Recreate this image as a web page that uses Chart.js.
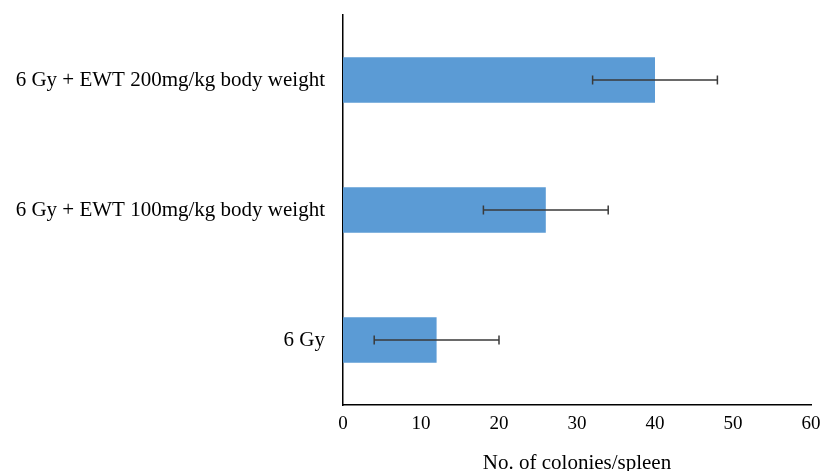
<!DOCTYPE html>
<html>
<head>
<meta charset="utf-8">
<script src="https://cdn.jsdelivr.net/npm/chart.js@4.4.0/dist/chart.umd.min.js"></script>
<style>
  html, body { margin: 0; padding: 0; background: #fff; }
  #wrap { width: 820px; height: 471px; }
</style>
</head>
<body>
<div id="wrap"><canvas id="chart_colonies"></canvas></div>
<script>
var groupLabels = ['6 Gy + EWT 200mg/kg body weight', '6 Gy + EWT 100mg/kg body weight', '6 Gy'];
var colonies = [40, 26, 12];
var colonyErrors = [8, 8, 8];
var xTicks = [0, 10, 20, 30, 40, 50, 60];

var serif = "'Liberation Serif', 'Times New Roman', serif";

var errorBarPlugin = {
    id: 'errorBars',
    afterDatasetsDraw: function(chart) {
        var ctx = chart.ctx;
        var xs = chart.scales.x;
        var ys = chart.scales.y;
        ctx.save();
        ctx.strokeStyle = '#3a3a3a';
        ctx.lineWidth = 1.5;
        colonies.forEach(function(v, i) {
            var y = ys.getPixelForValue(i);
            var x1 = xs.getPixelForValue(v - colonyErrors[i]);
            var x2 = xs.getPixelForValue(v + colonyErrors[i]);
            ctx.beginPath();
            ctx.moveTo(x1, y); ctx.lineTo(x2, y);
            ctx.moveTo(x1, y - 4.5); ctx.lineTo(x1, y + 4.5);
            ctx.moveTo(x2, y - 4.5); ctx.lineTo(x2, y + 4.5);
            ctx.stroke();
        });
        ctx.restore();
    }
};

var chart_colonies = new Chart(document.getElementById('chart_colonies'), {
    type: 'bar',
    data: {
        labels: groupLabels,
        datasets: [{
            label: 'No. of colonies/spleen',
            data: colonies,
            backgroundColor: '#5b9bd5',
            borderWidth: 0,
            barPercentage: 0.35,
            categoryPercentage: 1.0
        }]
    },
    options: {
        indexAxis: 'y',
        animation: false,
        responsive: true,
        maintainAspectRatio: false,
        layout: { padding: { top: 15, right: 9, bottom: 0, left: 0 } },
        plugins: {
            legend: { display: false },
            tooltip: { enabled: false }
        },
        scales: {
            x: {
                type: 'linear',
                min: 0,
                max: 60,
                afterBuildTicks: function(scale) {
                    scale.ticks = xTicks.map(function(v) { return { value: v }; });
                },
                afterFit: function(scale) {
                    scale.height = 66;
                    scale.paddingLeft = 0;
                    scale.paddingRight = 0;
                },
                grid: { display: false, drawTicks: false },
                border: { color: '#000', width: 1.5 },
                ticks: {
                    color: '#000',
                    padding: 8,
                    font: { family: serif, size: 19 }
                },
                title: {
                    display: true,
                    text: 'No. of colonies/spleen',
                    color: '#000',
                    padding: { top: -5, bottom: -5 },
                    font: { family: serif, size: 21 }
                }
            },
            y: {
                afterFit: function(scale) {
                    scale.width = 343;
                    scale.paddingTop = 0;
                    scale.paddingBottom = 0;
                },
                grid: { display: false, drawTicks: false },
                border: { color: '#000', width: 1.5 },
                ticks: {
                    color: '#000',
                    padding: 18,
                    font: { family: serif, size: 21 }
                }
            }
        }
    },
    plugins: [errorBarPlugin, {
        id: 'whiteBg',
        beforeDraw: function(chart) {
            var ctx = chart.canvas.getContext('2d');
            ctx.save();
            ctx.globalCompositeOperation = 'destination-over';
            ctx.fillStyle = 'white';
            ctx.fillRect(0, 0, chart.canvas.width, chart.canvas.height);
            ctx.restore();
        }
    }]
});
</script>
</body>
</html>
